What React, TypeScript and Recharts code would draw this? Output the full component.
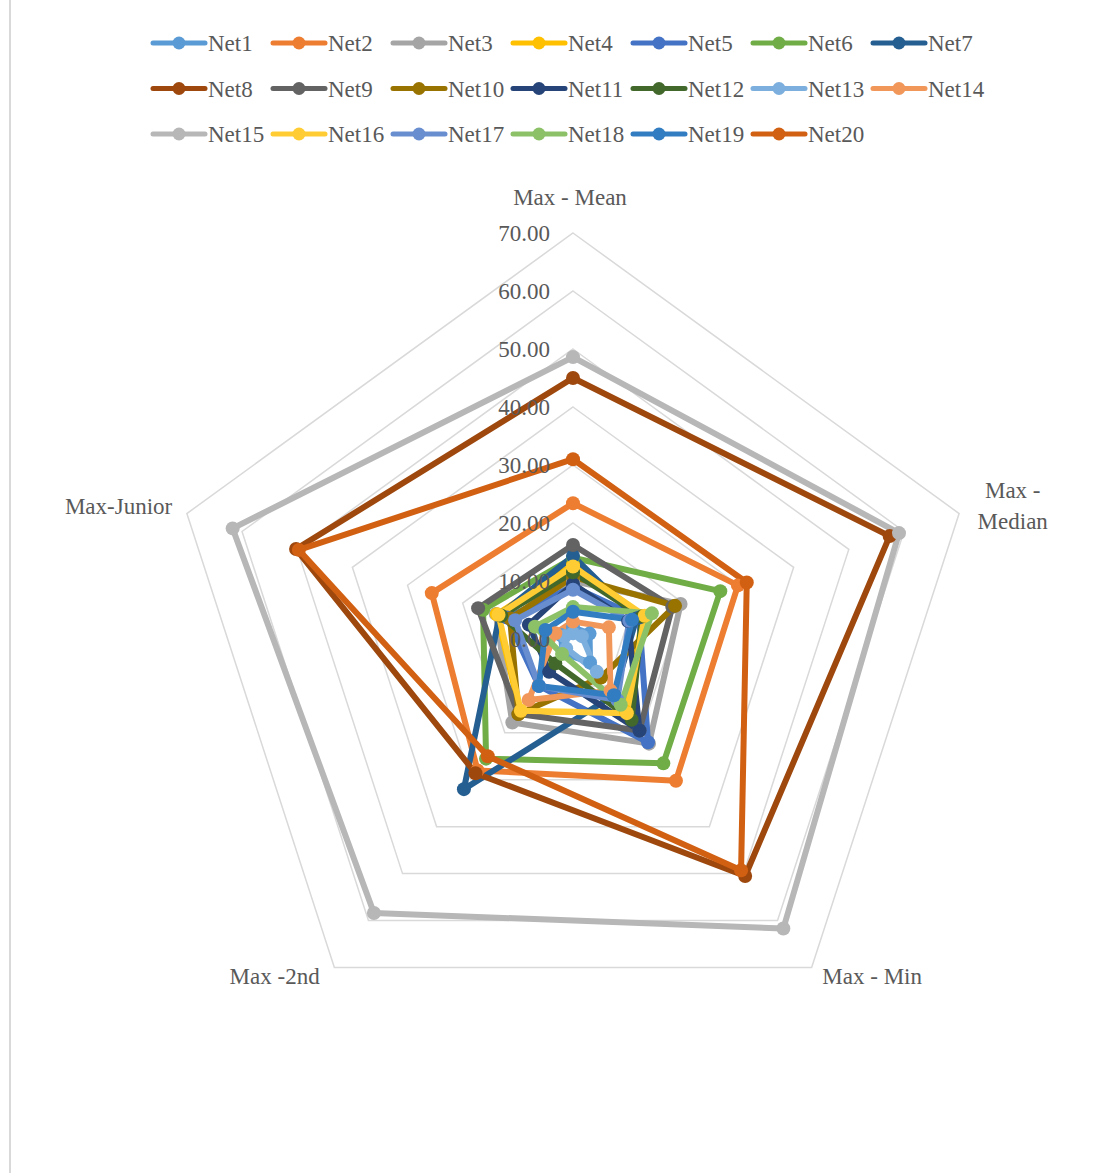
import React from "react";
import {
  RadarChart,
  Radar,
  PolarGrid,
  PolarAngleAxis,
  PolarRadiusAxis,
  Legend,
} from "recharts";

const axes = ["Max - Mean", "Max - Median", "Max - Min", "Max -2nd", "Max-Junior"];

// values per network, in axis order above
const net1 = [2.0, 3.0, 5.0, 3.0, 2.2];
const net2 = [23.4, 29.9, 30.2, 28.0, 25.6];
const net3 = [10.0, 19.5, 22.3, 17.8, 14.0];
const net4 = [12.8, 12.7, 15.5, 15.5, 13.8];
const net5 = [9.0, 12.0, 22.0, 10.0, 12.0];
const net6 = [14.0, 26.7, 26.5, 25.5, 16.3];
const net7 = [14.3, 11.5, 12.0, 32.0, 13.3];
const net8 = [45.0, 57.4, 50.5, 28.6, 50.2];
const net9 = [16.2, 18.0, 19.5, 16.0, 17.2];
const net10 = [10.7, 18.5, 8.2, 16.0, 11.4];
const net11 = [9.5, 10.0, 19.5, 7.0, 8.0];
const net12 = [11.5, 12.5, 17.2, 5.2, 13.0];
const net13 = [1.0, 1.6, 7.0, 2.0, 1.5];
const net14 = [3.0, 6.5, 11.0, 13.0, 3.2];
const net15 = [48.6, 59.1, 61.7, 58.4, 61.7];
const net16 = [12.5, 13.0, 15.8, 15.3, 13.5];
const net17 = [8.5, 10.2, 13.0, 10.0, 10.5];
const net18 = [5.5, 14.3, 14.0, 3.2, 6.9];
const net19 = [4.7, 10.7, 12.0, 10.0, 5.0];
const net20 = [31.0, 31.5, 49.3, 25.0, 49.7];

const series = [
  net1, net2, net3, net4, net5, net6, net7, net8, net9, net10,
  net11, net12, net13, net14, net15, net16, net17, net18, net19, net20,
];
const seriesNames = series.map((_, i) => `Net${i + 1}`);

const colors = [
  "#5B9BD5", "#ED7D31", "#A5A5A5", "#FFC000", "#4472C4",
  "#70AD47", "#255E91", "#9E480E", "#636363", "#997300",
  "#264478", "#43682B", "#7CAFDD", "#F1975A", "#B7B7B7",
  "#FFCD33", "#698ED0", "#8CC168", "#327DC2", "#D26012",
];

const radiusTicks = [0, 10, 20, 30, 40, 50, 60, 70];

const data = axes.map((axis, i) => {
  const row: Record<string, string | number> = { axis };
  series.forEach((vals, s) => {
    row[seriesNames[s]] = vals[i];
  });
  return row;
});

const FONT = "'Liberation Serif', 'Times New Roman', serif";
const FONT_SIZE = 23;
const TEXT = "#595959";
const LINE_W = 6;
const CX = 573;
const CY = 639;

const LegendGrid = () => (
  <svg width={1113} height={160} style={{ display: "block" }}>
    {seriesNames.map((name, i) => {
      const x = 153 + (i % 7) * 120;
      const y = 43 + Math.floor(i / 7) * 45.5;
      return (
        <g key={name}>
          <line x1={x} y1={y} x2={x + 52} y2={y} stroke={colors[i]} strokeWidth={5} strokeLinecap="round" />
          <circle cx={x + 26} cy={y} r={6.5} fill={colors[i]} />
          <text x={x + 55} y={y} dy="0.35em" fontFamily={FONT} fontSize={FONT_SIZE} fill={TEXT}>
            {name}
          </text>
        </g>
      );
    })}
  </svg>
);

const AngleTick = (props: any) => {
  const { x, y, payload } = props;
  const label: string = payload.value;
  const common = { fontFamily: FONT, fontSize: FONT_SIZE, fill: TEXT };
  if (Math.abs(x - CX) < 5) {
    return (
      <text x={x - 3} y={y - 28} textAnchor="middle" dy="0.35em" {...common}>
        {label}
      </text>
    );
  }
  if (x > CX && y < CY) {
    // long label wraps onto two lines
    const parts = label.split(" - ");
    return (
      <text x={x + 46} y={y - 21} textAnchor="middle" dy="0.35em" {...common}>
        <tspan x={x + 46}>{parts[0] + " -"}</tspan>
        <tspan x={x + 46} dy={31}>{parts[1]}</tspan>
      </text>
    );
  }
  if (x > CX) {
    return (
      <text x={x + 6} y={y + 2} textAnchor="start" dy="0.35em" {...common}>
        {label}
      </text>
    );
  }
  if (y > CY) {
    return (
      <text x={x - 10} y={y + 2} textAnchor="end" dy="0.35em" {...common}>
        {label}
      </text>
    );
  }
  return (
    <text x={x - 7} y={y - 5} textAnchor="end" dy="0.35em" {...common}>
      {label}
    </text>
  );
};

const RadiusTick = (props: any) => {
  const { x, y, payload } = props;
  return (
    <text x={x - 23} y={y} textAnchor="end" dy="0.35em" fontFamily={FONT} fontSize={FONT_SIZE} fill={TEXT}>
      {Number(payload.value).toFixed(2)}
    </text>
  );
};

const makeDot = (color: string) => (p: any) => (
  <circle key={`${color}-${p.index}`} cx={p.cx} cy={p.cy} r={7} fill={color} />
);

export default function App() {
  return (
    <div style={{ position: "absolute", left: 0, top: 0, width: 1113, height: 1173, background: "#fff", overflow: "hidden" }}>
      <div style={{ position: "absolute", left: 9, top: -4, width: 2, height: 1180, background: "#D9D9D9" }} />
      <RadarChart width={1113} height={1173} data={data} cx={CX} cy={CY} outerRadius={406} startAngle={90} endAngle={-270}>
        <Legend content={() => <LegendGrid />} wrapperStyle={{ top: 0, left: 0, width: 1113 }} />
        <PolarGrid gridType="polygon" radialLines={false} stroke="#D9D9D9" strokeWidth={1.5} />
        <PolarAngleAxis dataKey="axis" tick={<AngleTick />} tickLine={false} axisLine={false} />
        <PolarRadiusAxis
          angle={90}
          domain={[0, 70]}
          ticks={radiusTicks}
          tickCount={8}
          tick={<RadiusTick />}
          axisLine={false}
          tickLine={false}
        />
        {seriesNames.map((name, i) => (
          <Radar
            key={name}
            name={name}
            dataKey={name}
            stroke={colors[i]}
            strokeWidth={LINE_W}
            style={{ strokeWidth: LINE_W }}
            strokeLinejoin="round"
            fill="none"
            fillOpacity={0}
            dot={makeDot(colors[i])}
            isAnimationActive={false}
          />
        ))}
      </RadarChart>
    </div>
  );
}
